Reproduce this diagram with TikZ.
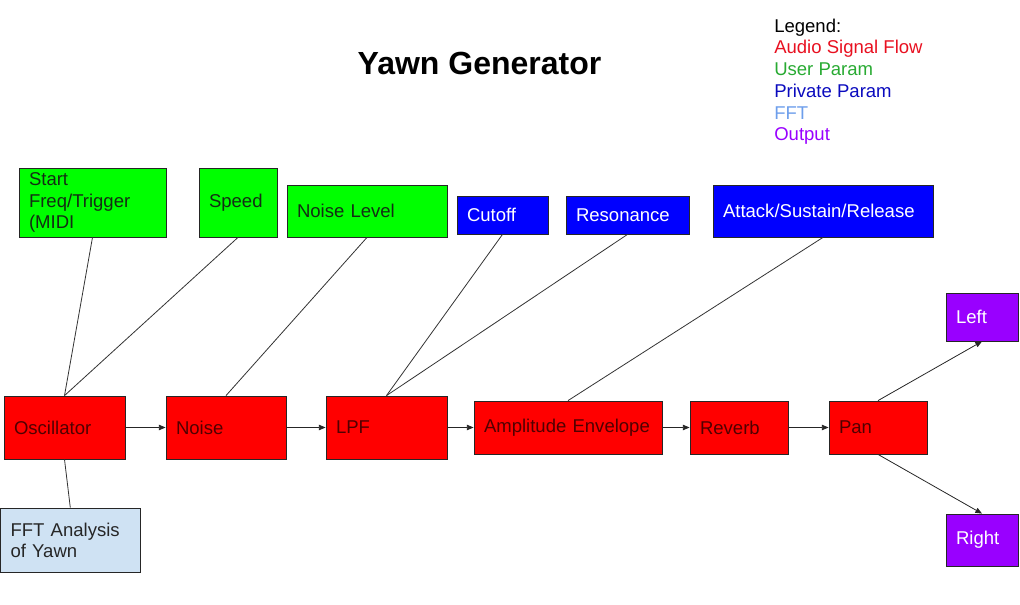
\documentclass[tikz,border=0pt]{standalone}
\usepackage{fontspec}
\setmainfont{Liberation Sans}
\usetikzlibrary{arrows.meta}
\definecolor{audiored}{RGB}{255,0,0}
\definecolor{audiotext}{RGB}{80,0,0}
\definecolor{usergreen}{RGB}{0,255,0}
\definecolor{usertext}{RGB}{20,45,20}
\definecolor{privblue}{RGB}{0,0,255}
\definecolor{fftblue}{RGB}{207,226,243}
\definecolor{outpurple}{RGB}{153,0,255}
\definecolor{legred}{RGB}{232,16,32}
\definecolor{leggreen}{RGB}{40,170,50}
\definecolor{legblue}{RGB}{10,10,190}
\definecolor{legfft}{RGB}{109,158,235}
\definecolor{legpurple}{RGB}{153,0,255}
\tikzstyle{line} = [line width=0.6pt, draw=black!80]
\tikzstyle{arrow} = [
  line width=0.6pt,
  ->,
  >={Triangle[length=5pt,width=4pt]},
  black!85,
]
\tikzstyle{bloque} = [
  rectangle,
  align=left,
  inner xsep=7.5pt,
  inner ysep=0pt,
  line width=0.6pt,
  draw=black!85,
  font=\fontsize{13.9pt}{15.8pt}\selectfont
]
\tikzstyle{audio} = [
  bloque,
  fill=audiored,
  text=audiotext
]
\tikzstyle{userparam} = [
  bloque,
  fill=usergreen,
  text=usertext
]
\tikzstyle{privparam} = [
  bloque,
  fill=privblue,
  text=white
]
\tikzstyle{fftbox} = [
  bloque,
  fill=fftblue,
  text=black!85
]
\tikzstyle{outbox} = [
  bloque,
  fill=outpurple,
  text=white
]
\begin{document}
\begin{tikzpicture}[x=0.75pt, y=-0.75pt]
    \useasboundingbox (0,0) rectangle (1020,605);

    \node[anchor=base, font=\fontsize{24pt}{28pt}\selectfont\bfseries] (title) at (479.5,75) {Yawn Generator};
    \node[anchor=north west, inner sep=0pt, align=left, font=\fontsize{13.9pt}{16.3pt}\selectfont] (legend) at (774,18.5) {Legend:\\ \textcolor{legred}{Audio Signal Flow}\\ \textcolor{leggreen}{User Param}\\ \textcolor{legblue}{Private Param}\\ \textcolor{legfft}{FFT}\\ \textcolor{legpurple}{Output}};

    \node[userparam, text width=95.25pt, minimum height=51.75pt] (start) at (92.5,202.5) {Start\\ Freq/Trigger\\ (MIDI};
    \node[userparam, text width=43.5pt, minimum height=51.75pt] (speed) at (238,202.5) {Speed};
    \node[userparam, text width=105pt, minimum height=39pt] (noiselvl) at (367,211) {Noise Level};
    \node[privparam, text width=53.25pt, minimum height=28.5pt] (cutoff) at (502.5,215) {Cutoff};
    \node[privparam, text width=77.25pt, minimum height=28.5pt] (reson) at (627.5,215) {Resonance};
    \node[privparam, text width=150pt, minimum height=39pt] (asr) at (823,211) {Attack/Sustain/Release};

    \node[audio, text width=75.75pt, minimum height=47.25pt] (osc) at (64.5,427.5) {Oscillator};
    \node[audio, text width=75pt, minimum height=47.25pt] (noise) at (226,427.5) {Noise};
    \node[audio, text width=75.75pt, minimum height=47.25pt] (lpf) at (386.5,427.5) {LPF};
    \node[audio, text width=126pt, minimum height=39.75pt] (amp) at (568,427.5) {Amplitude Envelope};
    \node[audio, text width=58.5pt, minimum height=39.75pt] (reverb) at (739,427.5) {Reverb};
    \node[audio, text width=58.5pt, minimum height=39.75pt] (pan) at (878,427.5) {Pan};

    \node[fftbox, text width=89.6pt, minimum height=48pt] (fft) at (70.3,540) {FFT Analysis\\ of Yawn};
    \node[outbox, text width=39pt, minimum height=36pt] (left) at (982,317) {Left};
    \node[outbox, text width=39pt, minimum height=39pt] (right) at (982,540) {Right};

    \draw[line] (start.south) -- (osc.north);
    \draw[line] (speed.south) -- (osc.north);
    \draw[line] (noiselvl.south) -- (noise.north);
    \draw[line] (cutoff.south) -- (lpf.north);
    \draw[line] (reson.south) -- (lpf.north);
    \draw[line] (asr.south) -- (amp.north);
    \draw[line] (osc.south) -- (fft.north);

    \draw[arrow] (osc) -- (noise);
    \draw[arrow] (noise) -- (lpf);
    \draw[arrow] (lpf) -- (amp);
    \draw[arrow] (amp) -- (reverb);
    \draw[arrow] (reverb) -- (pan);
    \draw[arrow] (pan.north) -- (left.south);
    \draw[arrow] (pan.south) -- (right.north);
  \end{tikzpicture}
\end{document}
